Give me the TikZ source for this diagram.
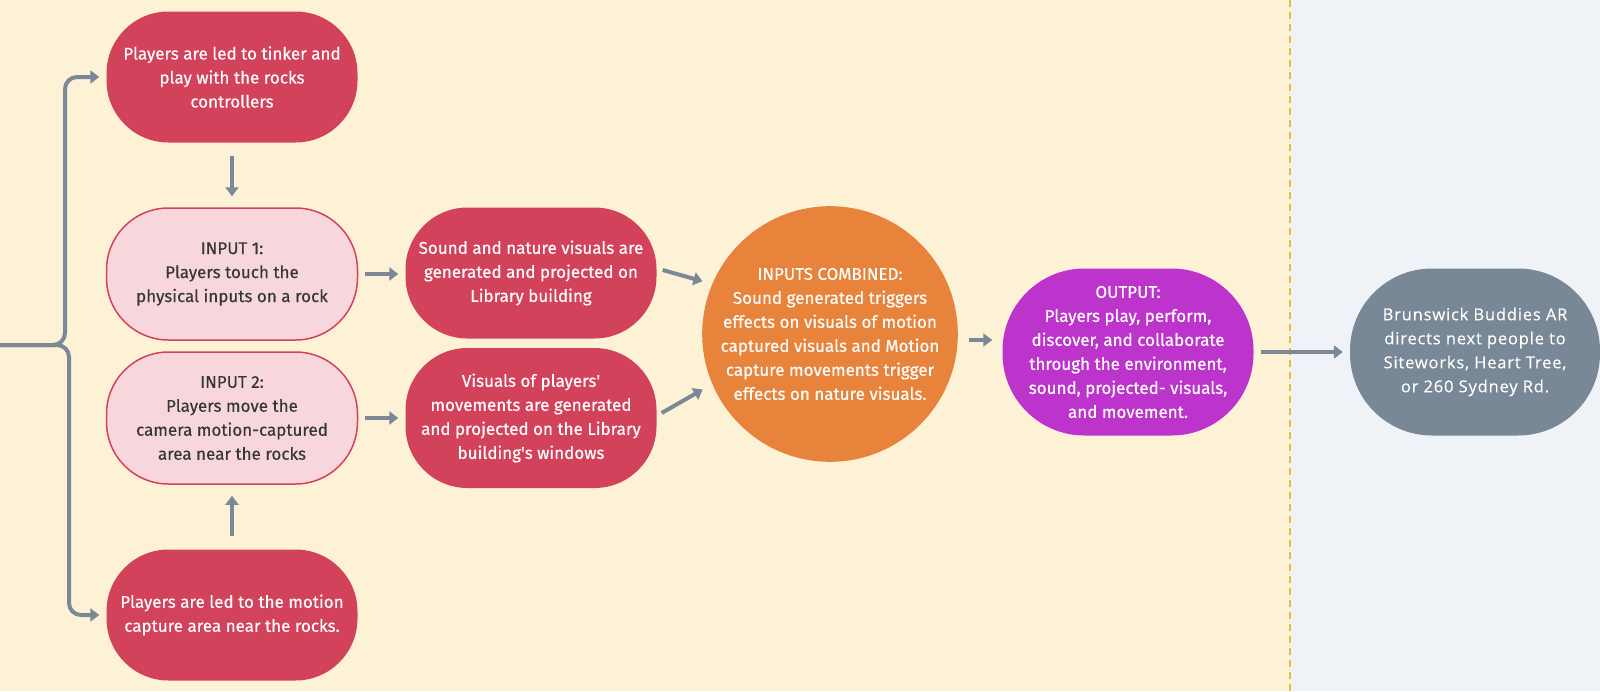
\documentclass[tikz,border=0pt]{standalone}
\usepackage{fontspec}
\setmainfont{Fira Sans}[FakeBold=0.35]
\newfontfamily\grayfont{Open Sans}[LetterSpace=5,FakeBold=0.3]
\usetikzlibrary{arrows.meta}
\definecolor{cream}{HTML}{FDF2D5}
\definecolor{pale}{HTML}{EFF3F7}
\definecolor{dashc}{HTML}{F4B93A}
\definecolor{redn}{HTML}{D2425A}
\definecolor{pinkn}{HTML}{F8D7DC}
\definecolor{orangen}{HTML}{E7833A}
\definecolor{purplen}{HTML}{BD34CC}
\definecolor{grayn}{HTML}{798896}
\definecolor{arrowc}{HTML}{7B8997}
\definecolor{darktext}{HTML}{363636}
\begin{document}
\begin{tikzpicture}[x=1pt,y=-1pt,
  txt/.style={align=center, font=\fontsize{17}{24}\selectfont, inner sep=0pt},
  box/.style={txt, rectangle, rounded corners=62pt, minimum width=251pt, minimum height=131pt},
  redbox/.style={box, fill=redn, text=white},
  pinkbox/.style={box, fill=pinkn, draw=redn, line width=1.5pt, text=darktext},
  conn/.style={draw=arrowc, line width=4pt, -{Triangle[length=9pt,width=13pt]}}]
\useasboundingbox (0,0) rectangle (1600,691);
\fill[cream] (0,0) rectangle (1290,691);
\fill[pale] (1290,0) rectangle (1600,691);
\draw[dashc, line width=2.5pt, dash pattern=on 7pt off 5pt] (1290,0) -- (1290,691);

\node[redbox] (top) at (232,77) {Players are led to tinker and\\play with the rocks\\controllers};
\node[pinkbox, minimum height=132pt] (in1) at (232,274) {INPUT 1:\\Players touch the\\physical inputs on a rock};
\node[pinkbox, minimum height=132pt] (in2) at (232,418) {INPUT 2:\\Players move the\\camera motion-captured\\area near the rocks};
\node[redbox] (bot) at (232,615) {Players are led to the motion\\capture area near the rocks.};
\node[redbox] (snd) at (531,273) {Sound and nature visuals are\\generated and projected on\\Library building};
\node[redbox, minimum height=140pt] (vis) at (531,418) {Visuals of players\textquotesingle\\movements are generated\\and projected on the Library\\building\textquotesingle s windows};
\node[txt, circle, fill=orangen, text=white, minimum size=249pt] (comb) at (830,334) {INPUTS COMBINED:\\Sound generated triggers\\effects on visuals of motion\\captured visuals and Motion\\capture movements trigger\\effects on nature visuals.};
\node[txt, rectangle, rounded corners=82pt, fill=purplen, text=white, minimum width=251pt, minimum height=167pt] (out) at (1128,352) {OUTPUT:\\Players play, perform,\\discover, and collaborate\\through the environment,\\sound, projected- visuals,\\and movement.};
\node[txt, rectangle, rounded corners=82pt, fill=grayn, text=white, minimum width=250pt, minimum height=167pt, font=\grayfont\fontsize{16.5}{24}\selectfont] (br) at (1475,352) {Brunswick Buddies AR\\directs next people to\\Siteworks, Heart Tree,\\or 260 Sydney Rd.};

\coordinate (src) at (0,345);
\draw[conn, rounded corners=12pt, shorten >=7pt] (src) -- (65,345) |- (top.west);
\draw[conn, rounded corners=12pt, shorten >=7pt] (src) -- (69,345) |- (bot.west);
\draw[conn, shorten <=13pt, shorten >=11pt] (top) -- (in1);
\draw[conn, shorten <=13pt, shorten >=11pt] (bot) -- (in2);
\draw[conn, shorten <=7pt, shorten >=7pt] (in1) -- (snd.west |- in1);
\draw[conn, shorten <=7pt, shorten >=7pt] (in2) -- (vis.west |- in2);
\draw[conn, shorten >=10pt] ([shift={(6,-3)}]snd.east) -- (comb.157);
\draw[conn, shorten >=11pt] ([shift={(5,-5)}]vis.east) -- (comb.203);
\draw[conn] ([shift={(11,6)}]comb.east) -- ([shift={(-10,-12)}]out.west);
\draw[conn, shorten <=7pt, shorten >=7pt] (out) -- (br);
\end{tikzpicture}
\end{document}
